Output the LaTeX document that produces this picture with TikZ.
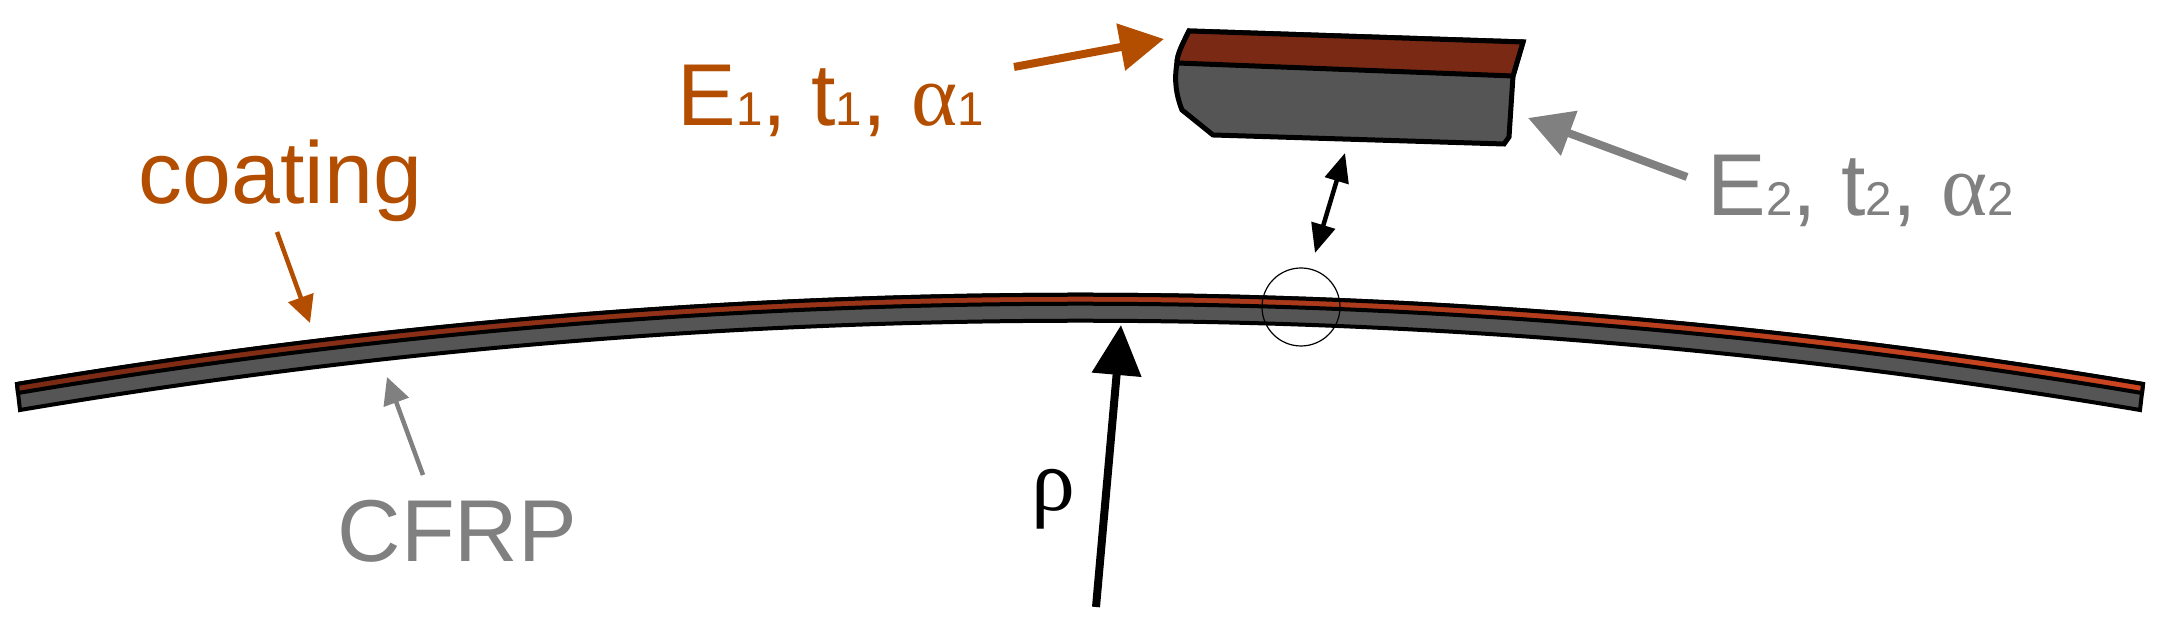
\documentclass[tikz,border=0pt]{standalone}
\usepackage{fontspec}
\setmainfont{Liberation Sans}
\newfontfamily\greekfont{Liberation Serif}
\usetikzlibrary{arrows.meta}
\definecolor{CoatOrange}{HTML}{B34D00}
\definecolor{CoatDark}{HTML}{7A2A14}
\definecolor{CoatLight}{HTML}{CC4520}
\definecolor{LabelGray}{HTML}{808080}
\definecolor{CoreGray}{HTML}{555555}
\newcommand{\lowdigit}[1]{{\fontsize{13.5}{15}\selectfont #1}}
\tikzset{
	label text/.style={inner sep=0pt, anchor=base west, font=\fontsize{25}{30}\selectfont},
	big arrow/.style={line width=.08cm, -{Triangle[length=.44cm,width=.46cm]}},
	small arrow/.style={line width=.045cm, -{Triangle[length=.27cm,width=.26cm]}},
}

\begin{document}
\begin{tikzpicture}

	\useasboundingbox (0,0) rectangle (21.59,6.3);

	% strip
	\draw[line width=.04cm, fill=CoreGray] (.17,2.46) .. controls (7.26,3.65) and (14.35,3.65) .. (21.43,2.46) -- (21.40,2.20) .. controls (14.35,3.39) and (7.26,3.39) .. (.20,2.20) -- cycle;
	\draw[line width=.04cm, left color=CoatDark, right color=CoatLight] (.17,2.46) .. controls (7.26,3.65) and (14.35,3.65) .. (21.43,2.46) -- (21.42,2.37) .. controls (14.35,3.56) and (7.26,3.56) .. (.18,2.37) -- cycle;

	% enlarged piece
	\draw[line width=.05cm, fill=CoreGray] (11.89,5.99) .. controls (11.82,5.85) and (11.77,5.75) .. (11.77,5.67) .. controls (11.74,5.50) and (11.76,5.35) .. (11.82,5.20) -- (12.13,4.95) -- (15.04,4.86) -- (15.09,4.93) -- (15.13,5.54) -- (15.23,5.88) -- cycle;
	\draw[line width=.05cm, fill=CoatDark] (11.89,5.99) .. controls (11.82,5.85) and (11.77,5.75) .. (11.77,5.67) -- (15.13,5.54) -- (15.23,5.88) -- cycle;

	\draw[line width=.012cm] (13.01,3.23) circle(.39);

	\coordinate (coatingfrom) at (2.77,3.98);
	\coordinate (coatingto) at (3.10,3.07);
	\coordinate (cfrpfrom) at (4.23,1.55);
	\coordinate (cfrpto) at (3.87,2.53);
	\coordinate (topfrom) at (10.14,5.63);
	\coordinate (topto) at (11.64,5.91);
	\coordinate (gapa) at (13.45,4.77);
	\coordinate (gapb) at (13.15,3.77);
	\coordinate (sidefrom) at (16.87,4.53);
	\coordinate (sideto) at (15.28,5.12);
	\coordinate (rhofrom) at (10.96,.23);
	\coordinate (rhoto) at (11.21,3.05);

	\draw[CoatOrange, small arrow] (coatingfrom) -- (coatingto);
	\draw[LabelGray, small arrow] (cfrpfrom) -- (cfrpto);
	\draw[CoatOrange, big arrow] (topfrom) -- (topto);
	\draw[LabelGray, big arrow] (sidefrom) -- (sideto);
	\draw[line width=.045cm, {Triangle[length=.29cm,width=.24cm]}-{Triangle[length=.29cm,width=.24cm]}] (gapa) -- (gapb);
	\draw[line width=.08cm, -{Triangle[length=.5cm,width=.48cm]}] (rhofrom) -- (rhoto);

	\node[label text, CoatOrange] (coating) at (1.38,4.26) {coating};
	\node[label text, LabelGray] (cfrp) at (3.37,.68) {CFRP};
	\node[label text, CoatOrange] (top) at (6.77,5.04) {E\lowdigit{1}, t\lowdigit{1}, {\greekfont α}\lowdigit{1}};
	\node[label text, LabelGray] (side) at (17.07,4.14) {E\lowdigit{2}, t\lowdigit{2}, {\greekfont α}\lowdigit{2}};
	\node[label text, black] (rho) at (10.31,1.19) {\greekfont ρ};

\end{tikzpicture}
\end{document}
